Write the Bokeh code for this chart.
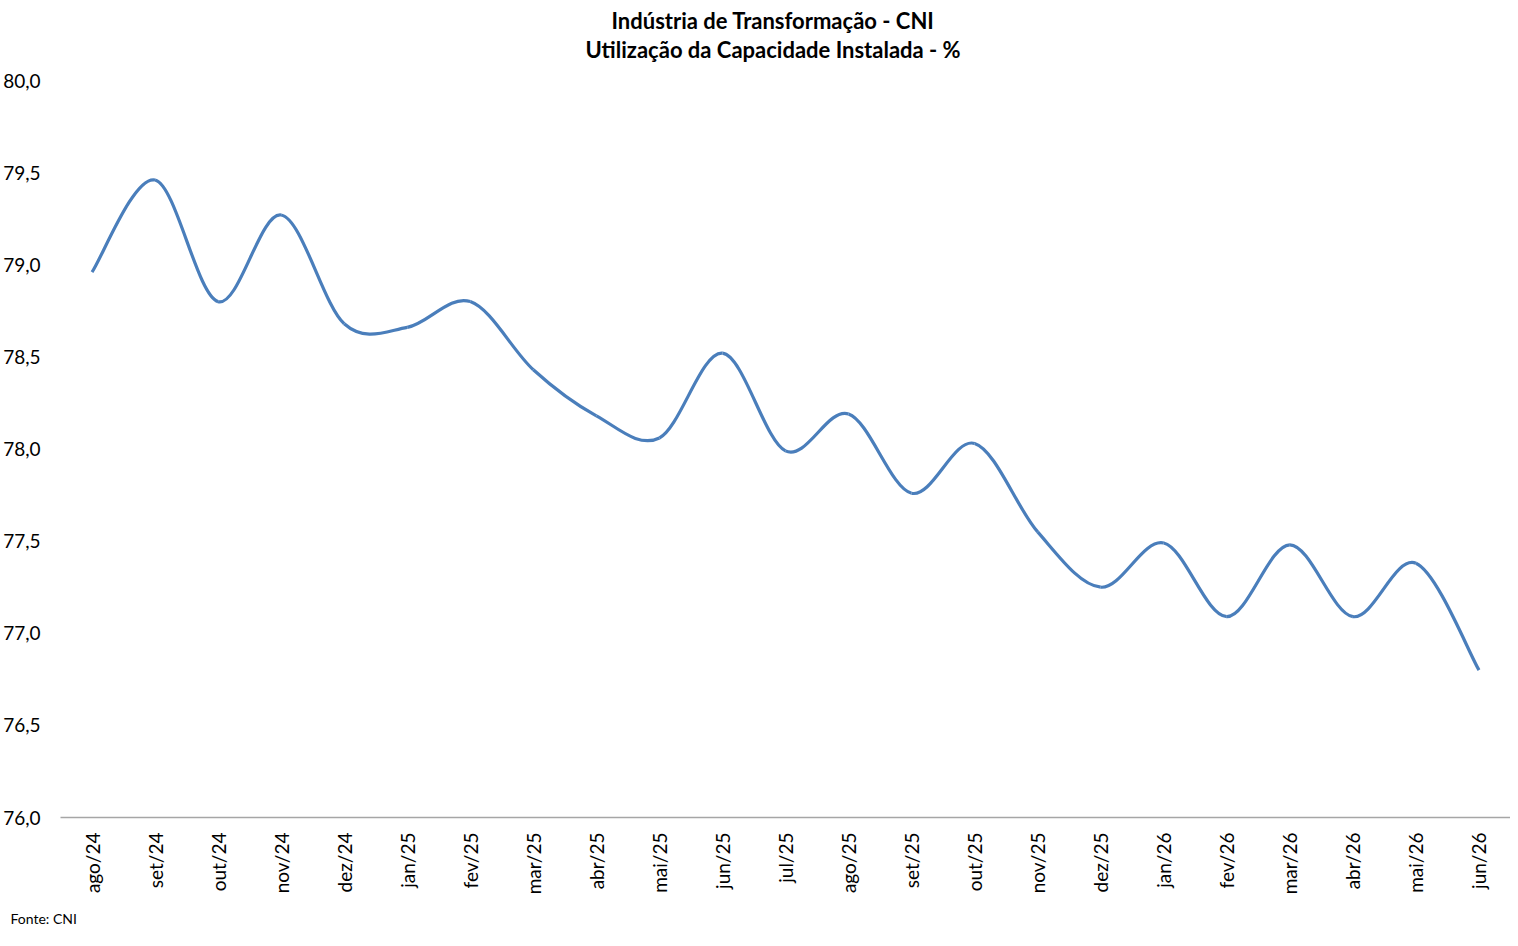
import numpy as np
from bokeh.plotting import figure
from bokeh.models import (Range1d, FixedTicker, CustomJSTickFormatter, Title,
                          ColumnDataSource)
from bokeh.embed import file_html
from bokeh.resources import INLINE

# ---- data ----
months = ["ago/24", "set/24", "out/24", "nov/24", "dez/24", "jan/25", "fev/25",
          "mar/25", "abr/25", "mai/25", "jun/25", "jul/25", "ago/25", "set/25",
          "out/25", "nov/25", "dez/25", "jan/26", "fev/26", "mar/26", "abr/26",
          "mai/26", "jun/26"]
uci = [78.96, 79.46, 78.80, 79.27, 78.68, 78.66, 78.80, 78.43, 78.18, 78.06,
       78.52, 77.99, 78.19, 77.76, 78.03, 77.55, 77.25, 77.49, 77.09, 77.48,
       77.09, 77.38, 76.80]
y_ticks = [76.0, 76.5, 77.0, 77.5, 78.0, 78.5, 79.0, 79.5, 80.0]
title1 = "Indústria de Transformação - CNI"
title2 = "Utilização da Capacidade Instalada - %"
source_note = "Fonte: CNI"

FONT = "Lato"

p = figure(width=1510, height=938, output_backend="svg", toolbar_location=None,
           x_range=Range1d(-0.5, len(months) - 0.5), y_range=Range1d(76.0, 80.0),
           min_border_left=60, min_border_right=0, min_border_top=80,
           min_border_bottom=121)
p.outline_line_color = None
p.grid.grid_line_color = None

# smoothed line (Excel-like Bezier smoothing) built from the data
xs = np.arange(len(uci), dtype=float)
ys = np.array(uci, dtype=float)
n = len(xs)
def pt(i):
    i = min(max(i, 0), n - 1)
    return xs[i], ys[i]
x0, y0, x1, y1, cx0, cy0, cx1, cy1 = [], [], [], [], [], [], [], []
for i in range(n - 1):
    pxm, pym = pt(i - 1)
    pxa, pya = pt(i)
    pxb, pyb = pt(i + 1)
    pxp, pyp = pt(i + 2)
    x0.append(pxa); y0.append(pya); x1.append(pxb); y1.append(pyb)
    cx0.append(pxa + (pxb - pxm) / 6.0); cy0.append(pya + (pyb - pym) / 6.0)
    cx1.append(pxb - (pxp - pxa) / 6.0); cy1.append(pyb - (pyp - pya) / 6.0)
src = ColumnDataSource(dict(x0=x0, y0=y0, x1=x1, y1=y1,
                            cx0=cx0, cy0=cy0, cx1=cx1, cy1=cy1))
p.bezier(x0="x0", y0="y0", x1="x1", y1="y1", cx0="cx0", cy0="cy0",
         cx1="cx1", cy1="cy1", source=src, line_color="#4A7EBB", line_width=3.2)

# x axis
xa = p.xaxis[0]
xa.ticker = FixedTicker(ticks=list(range(len(months))))
xa.formatter = CustomJSTickFormatter(args=dict(labels=months),
                                     code="return labels[Math.round(tick)] || '';")
xa.major_label_orientation = np.pi / 2
xa.major_tick_line_color = None
xa.minor_tick_line_color = None
xa.axis_line_color = "#A6A6A6"
xa.axis_line_width = 1.5
xa.major_label_standoff = 9
xa.major_label_text_font = FONT
xa.major_label_text_font_size = "19px"
xa.major_label_text_color = "black"

# y axis
ya = p.yaxis[0]
ya.ticker = FixedTicker(ticks=y_ticks)
ya.formatter = CustomJSTickFormatter(code="return tick.toFixed(1).replace('.', ',');")
ya.axis_line_color = None
ya.major_tick_line_color = None
ya.minor_tick_line_color = None
ya.major_label_standoff = 14
ya.major_label_text_font = FONT
ya.major_label_text_font_size = "19px"
ya.major_label_text_color = "black"

# titles and source note
p.add_layout(Title(text=title2, align="left", offset=525, text_font=FONT,
                   text_font_size="22px", text_font_style="bold",
                   text_color="black", standoff=36), "above")
p.add_layout(Title(text=title1, align="left", offset=551, text_font=FONT,
                   text_font_size="22px", text_font_style="bold",
                   text_color="black", standoff=-36), "above")
p.add_layout(Title(text=source_note, align="left", offset=-50, text_font=FONT,
                   text_font_size="14px", text_font_style="normal",
                   text_color="black", standoff=21), "below")

open("out.html", "w").write(file_html(p, INLINE))
